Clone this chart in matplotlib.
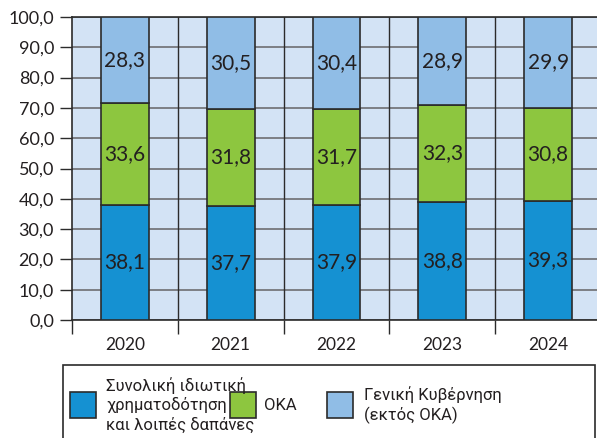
import matplotlib.pyplot as plt
from matplotlib.patches import Rectangle
import numpy as np

plt.rcParams['font.family'] = ['Lato', 'DejaVu Sans']

years = ["2020", "2021", "2022", "2023", "2024"]
private = [38.1, 37.7, 37.9, 38.8, 39.3]
oka = [33.6, 31.8, 31.7, 32.3, 30.8]
general_gov = [28.3, 30.5, 30.4, 28.9, 29.9]

series_labels = ["Συνολική ιδιωτική\nχρηματοδότηση\nκαι λοιπές δαπάνες",
                 "ΟΚΑ",
                 "Γενική Κυβέρνηση\n(εκτός ΟΚΑ)"]
colors = ["#1591d2", "#8dc63f", "#90bde6"]
edge = "#2b2b2b"
text_col = "#231f20"

fig = plt.figure(figsize=(5.97, 4.38), dpi=100)
ax = fig.add_axes([72 / 597, 118 / 438, 529 / 597, 303 / 438])
ax.set_facecolor("#d3e3f5")

x = np.arange(len(years))
bottom = np.zeros(len(years))
for vals, col in zip([private, oka, general_gov], colors):
    ax.bar(x, vals, width=0.45, bottom=bottom, color=col, edgecolor=edge,
           linewidth=1.2, zorder=3)
    for xi, b, v in zip(x, bottom, vals):
        ax.text(xi, b + v / 2, f"{v:.1f}".replace(".", ","), ha="center",
                va="center", fontsize=15, color=text_col, zorder=4)
    bottom += np.array(vals)

ax.set_xlim(-0.5, len(years) - 0.5)
ax.set_ylim(0, 100)
ax.set_yticks(np.arange(0, 101, 10))
ax.set_yticklabels([f"{v:.1f}".replace(".", ",") for v in np.arange(0, 101, 10)],
                   fontsize=13, color=text_col)
ax.set_xticks(x)
ax.set_xticklabels(years, fontsize=12.5, color=text_col)
ax.set_xticks(np.arange(-0.5, len(years)), minor=True)
ax.tick_params(axis="x", which="major", length=0, pad=12)
ax.tick_params(axis="x", which="minor", length=10, width=1, color=edge)
ax.tick_params(axis="y", length=9, width=1, color=edge, pad=4)

ax.yaxis.grid(True, color="#6d6e71", linewidth=1.2, zorder=1)
for b in np.arange(0.5, len(years) - 0.5):
    ax.axvline(b, color=edge, linewidth=1, zorder=1)
for side in ["left", "bottom", "top"]:
    ax.spines[side].set_color(edge)
    ax.spines[side].set_linewidth(1.2)
ax.spines["right"].set_visible(False)
ax.set_axisbelow(True)


# legend box drawn in pixel coordinates
def px(xp, yp):
    return xp / 597, 1 - yp / 438


lx, ly = px(63, 365)
fig.patches.append(Rectangle((lx, 1 - 440 / 438), 532 / 597, (440 - 365) / 438,
                             transform=fig.transFigure, facecolor="white",
                             edgecolor=edge, linewidth=1.2))
squares = [70, 230, 327]
texts = [106, 264, 364]
for sx, tx, col, lab in zip(squares, texts, colors, series_labels):
    x0, y0 = px(sx, 418)
    fig.patches.append(Rectangle((x0, y0), 26 / 597, 26 / 438,
                                 transform=fig.transFigure, facecolor=col,
                                 edgecolor=edge, linewidth=1.2))
    fig.text(tx / 597, 1 - 405 / 438, lab, ha="left", va="center",
             fontsize=12, color=text_col, linespacing=1.25,
             family=['Roboto', 'DejaVu Sans'])

fig.savefig("out.png", dpi=100)
